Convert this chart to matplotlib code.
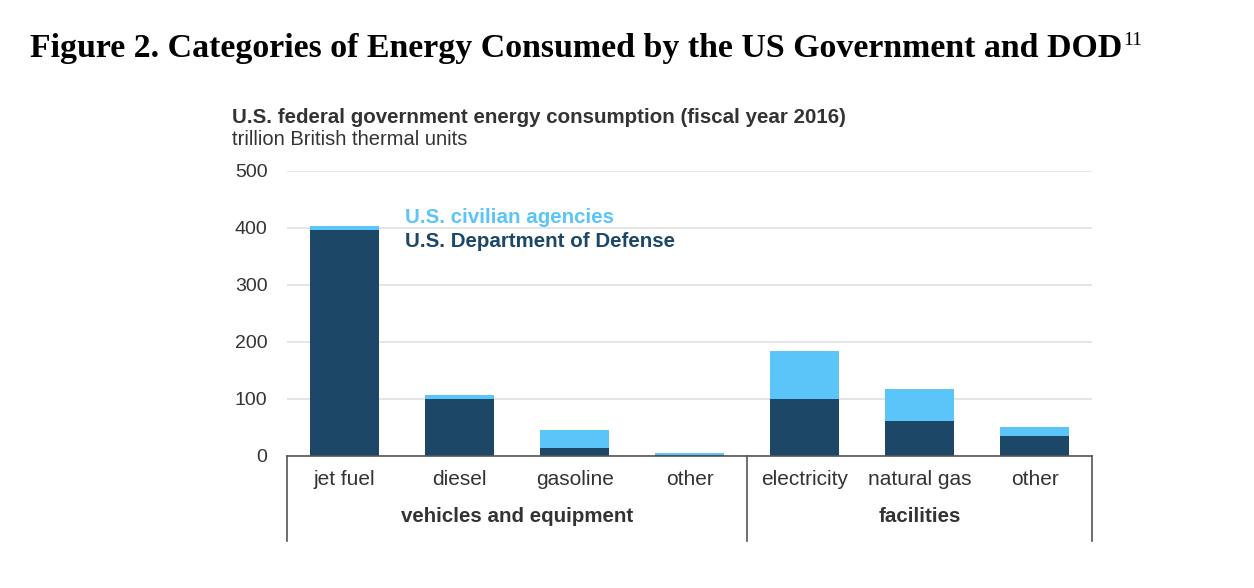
import numpy as np
import matplotlib
matplotlib.use("Agg")
import matplotlib.pyplot as plt

# values, trillion Btu
categories = ["jet fuel", "diesel", "gasoline", "other",
              "electricity", "natural gas", "other"]
dod = [397, 100, 14, 1, 100, 62, 35]
civilian = [6, 7, 32, 5, 84, 55, 16]
groups = ["vehicles and equipment", "facilities"]
group_spans = [(-0.5, 3.5), (3.5, 6.5)]
yticks = [0, 100, 200, 300, 400, 500]

dark = "#1c4767"
light = "#5bc5fa"
gray_txt = "#333333"

plt.rcParams['font.family'] = ['Liberation Sans', 'DejaVu Sans']

fig = plt.figure(figsize=(12.54, 5.88), dpi=100)
ax = fig.add_axes([0.2289, 0.2245, 0.642, 0.4847])

x = np.arange(len(categories))
ax.bar(x, dod, width=0.6, color=dark, zorder=3)
ax.bar(x, civilian, width=0.6, bottom=dod, color=light, zorder=3)

ax.set_xlim(-0.5, 6.5)
ax.set_ylim(0, 500)
ax.set_yticks(yticks)
ax.set_yticklabels([str(v) for v in yticks], fontsize=14, color=gray_txt)
ax.tick_params(axis='y', length=0, pad=14)
ax.set_xticks([])
ax.yaxis.grid(True, color="#e0e0e0", lw=1.2, zorder=0)
for s in ["top", "right", "left"]:
    ax.spines[s].set_visible(False)
ax.spines["bottom"].set_color("#555555")
ax.spines["bottom"].set_linewidth(1.2)
ax.spines["bottom"].set_zorder(4)

trans = ax.get_xaxis_transform()
for xi, lab in zip(x, categories):
    ax.text(xi, -0.084, lab, transform=trans, ha="center", va="center",
            fontsize=15, color=gray_txt)
for (a, b), g in zip(group_spans, groups):
    ax.text((a + b) / 2, -0.214, g, transform=trans, ha="center", va="center",
            fontsize=14.8, fontweight="bold", color=gray_txt)
for xv in [-0.5, 3.5, 6.5]:
    ax.plot([xv, xv], [0, -0.3], transform=trans, color="#555555",
            lw=1.2, clip_on=False)

# legend as coloured text
fig.text(0.323, 0.630, "U.S. civilian agencies", color=light, fontsize=14.8,
         fontweight="bold", ha="left", va="center")
fig.text(0.323, 0.590, "U.S. Department of Defense", color=dark, fontsize=14.8,
         fontweight="bold", ha="left", va="center")

# chart headings
fig.text(0.185, 0.800, "U.S. federal government energy consumption (fiscal year 2016)",
         fontsize=14.8, fontweight="bold", color=gray_txt, ha="left", va="center")
fig.text(0.185, 0.762, "trillion British thermal units",
         fontsize=14.5, color=gray_txt, ha="left", va="center")

# figure title with superscript
title = fig.text(0.024, 0.903,
                 "Figure 2. Categories of Energy Consumed by the US Government and DOD",
                 fontsize=24.4, fontweight="bold", family="Liberation Serif",
                 color="black", ha="left", va="baseline")
fig.canvas.draw()
bb = title.get_window_extent(fig.canvas.get_renderer())
fig.text(bb.x1 / fig.bbox.width + 0.001, 0.923, "11", fontsize=14,
         family="Liberation Serif", color="black", ha="left", va="baseline")

fig.savefig("out.png", dpi=100)
